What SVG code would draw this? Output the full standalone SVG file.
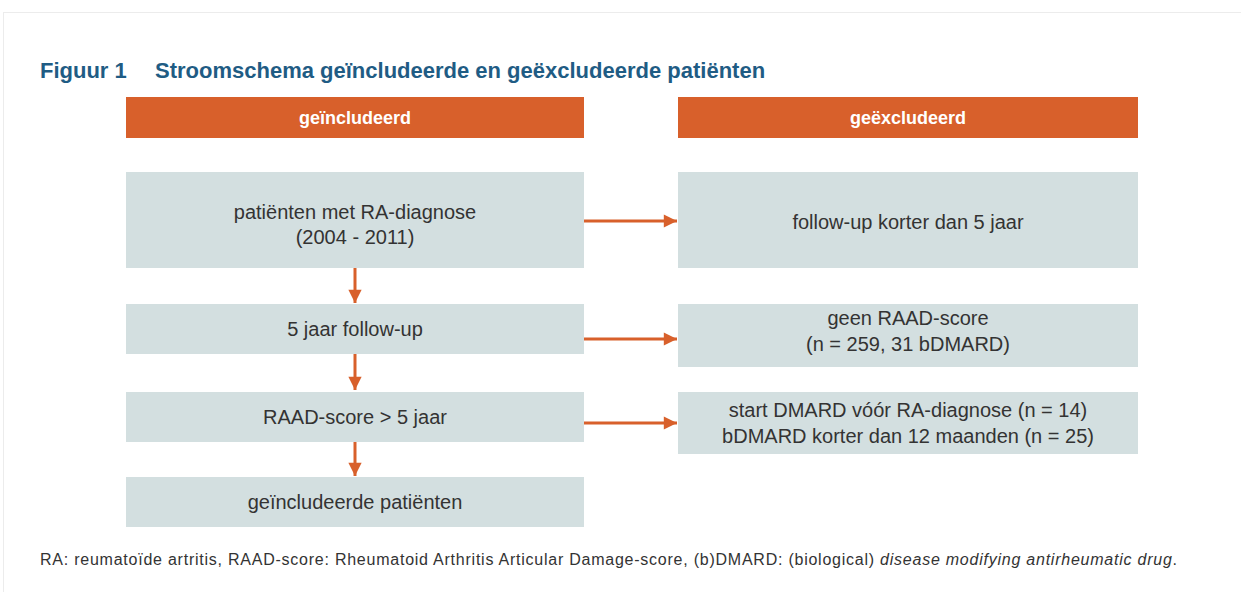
<svg xmlns="http://www.w3.org/2000/svg" width="1241" height="592" viewBox="0 0 1241 592">
<style>
.frame{fill:#ffffff;stroke:#ececec;stroke-width:1}
.hdr{fill:#d8602b}
.box{fill:#d3dfe0}
.title{font-family:"Liberation Sans",Arial,sans-serif;font-weight:bold;font-size:22px;fill:#1f5c84}
.htxt{font-family:"Liberation Sans",Arial,sans-serif;font-weight:bold;font-size:18px;fill:#ffffff;text-anchor:middle}
.txt{font-family:"Liberation Sans",Arial,sans-serif;font-size:20px;fill:#333333;text-anchor:middle}
.note{font-family:"Liberation Sans",Arial,sans-serif;font-size:16px;fill:#333333}
.conn{stroke:#d8602b;stroke-width:3;fill:none}
</style>
<defs>
<marker id="ah" viewBox="0 0 10 10" refX="10" refY="5" markerWidth="5.5" markerHeight="4.4" orient="auto" markerUnits="strokeWidth">
<path d="M0,0 L10,5 L0,10 z" fill="#d8602b"/>
</marker>
</defs>
<rect width="1241" height="592" fill="#ffffff"/>
<rect class="frame" x="3.5" y="12.5" width="1260" height="600"/>
<g id="title">
<text class="title" x="40" y="78">Figuur 1</text>
<text class="title" x="155" y="78">Stroomschema geïncludeerde en geëxcludeerde patiënten</text>
</g>
<g id="hdr-incl">
<rect class="hdr" x="126" y="97" width="458" height="41"/>
<text class="htxt" x="355" y="124">geïncludeerd</text>
</g>
<g id="hdr-excl">
<rect class="hdr" x="678" y="97" width="460" height="41"/>
<text class="htxt" x="908" y="124">geëxcludeerd</text>
</g>
<g id="n1">
<rect class="box" x="126" y="172" width="458" height="96"/>
<text class="txt" x="355" y="219">patiënten met RA-diagnose</text>
<text class="txt" x="355" y="244">(2004 - 2011)</text>
</g>
<g id="n2">
<rect class="box" x="126" y="304" width="458" height="50"/>
<text class="txt" x="355" y="336">5 jaar follow-up</text>
</g>
<g id="n3">
<rect class="box" x="126" y="392" width="458" height="50"/>
<text class="txt" x="355" y="424">RAAD-score &gt; 5 jaar</text>
</g>
<g id="n4">
<rect class="box" x="126" y="477" width="458" height="50"/>
<text class="txt" x="355" y="509">geïncludeerde patiënten</text>
</g>
<g id="e1">
<rect class="box" x="678" y="172" width="460" height="96"/>
<text class="txt" x="908" y="229">follow-up korter dan 5 jaar</text>
</g>
<g id="e2">
<rect class="box" x="678" y="304" width="460" height="63"/>
<text class="txt" x="908" y="325">geen RAAD-score</text>
<text class="txt" x="908" y="351">(n = 259, 31 bDMARD)</text>
</g>
<g id="e3">
<rect class="box" x="678" y="392" width="460" height="62"/>
<text class="txt" x="908" y="417">start DMARD vóór RA-diagnose (n = 14)</text>
<text class="txt" x="908" y="443">bDMARD korter dan 12 maanden (n = 25)</text>
</g>
<g id="connectors">
<line class="conn" x1="355" y1="268" x2="355" y2="303" marker-end="url(#ah)"/>
<line class="conn" x1="355" y1="354" x2="355" y2="390" marker-end="url(#ah)"/>
<line class="conn" x1="355" y1="442" x2="355" y2="476" marker-end="url(#ah)"/>
<line class="conn" x1="584" y1="221" x2="677" y2="221" marker-end="url(#ah)"/>
<line class="conn" x1="584" y1="339" x2="677" y2="339" marker-end="url(#ah)"/>
<line class="conn" x1="584" y1="423" x2="677" y2="423" marker-end="url(#ah)"/>
</g>
<g id="footnote">
<text class="note" x="40" y="565" textLength="1137" lengthAdjust="spacing">RA: reumatoïde artritis, RAAD-score: Rheumatoid Arthritis Articular Damage-score, (b)DMARD: (biological) <tspan font-style="italic">disease modifying antirheumatic drug</tspan>.</text>
</g>
</svg>
